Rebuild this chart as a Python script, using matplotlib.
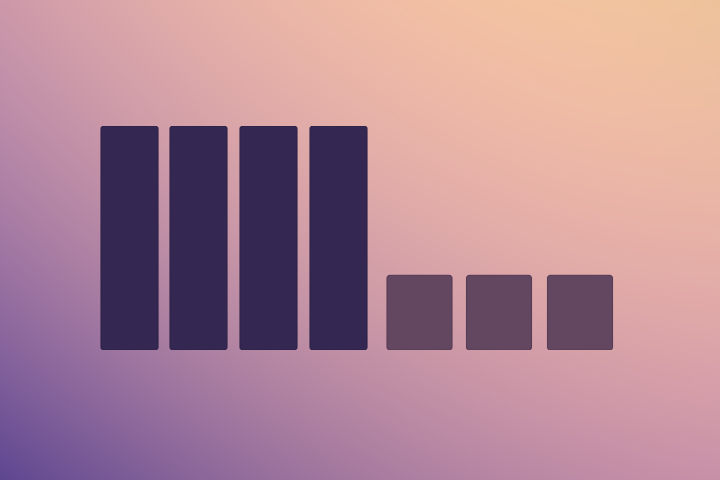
import numpy as np
import matplotlib
matplotlib.use("Agg")
import matplotlib.pyplot as plt
from matplotlib.patches import FancyBboxPatch
from matplotlib.colors import to_rgb

# ---- data ----
categories = ["A", "B", "C", "D", "E", "F", "G"]
values = [3, 3, 3, 3, 1, 1, 1]
groups = ["tall", "tall", "tall", "tall", "short", "short", "short"]

# ---- layout / style ----
W, H = 720, 480
x_centers = [129.5, 198.5, 268.5, 338.5, 419.5, 499.0, 580.0]
widths = [57, 57, 57, 57, 65, 65, 65]
colors = {"tall": "#342852", "short": "#634660"}
edge = {"tall": "#2c2146", "short": "#573c55"}

fig = plt.figure(figsize=(W / 100, H / 100), dpi=100)

# background: smooth quadratic colour surface fitted to sampled colours
samples = [
    (40, 440, "#6E5494"), (680, 40, "#EFC3A2"), (40, 40, "#CD9AAA"),
    (680, 440, "#CB95A8"), (360, 420, "#B888AA"), (360, 60, "#E8B4A0"),
    (670, 240, "#E3ADA2"), (50, 240, "#B083AA"),
    (15, 465, "#684C90"), (705, 15, "#F2C4A0"),
    (10, 10, "#CC98AA"), (710, 470, "#CA93A8"),
]
sx = np.array([s[0] for s in samples]) / W
sy = np.array([s[1] for s in samples]) / H
sc = np.array([to_rgb(s[2]) for s in samples])
A = np.column_stack([np.ones_like(sx), sx, sy, sx * sy, sx ** 2, sy ** 2])
coef, *_ = np.linalg.lstsq(A, sc, rcond=None)
X, Y = np.meshgrid((np.arange(W) + 0.5) / W, (np.arange(H) + 0.5) / H)
B = np.stack([np.ones_like(X), X, Y, X * Y, X ** 2, Y ** 2], axis=-1)
img = np.clip(B @ coef, 0, 1)

bg = fig.add_axes([0, 0, 1, 1])
bg.imshow(img, extent=[0, W, H, 0], aspect="auto", interpolation="bilinear")
bg.set_axis_off()

base_px = 350
top_px = 126
ax = fig.add_axes([0, (H - base_px) / H, 1, (base_px - top_px) / H])
ax.set_xlim(0, W)
ax.set_ylim(0, 3)
ax.patch.set_alpha(0)
ax.set_axis_off()

bars = ax.bar(x_centers, values, width=widths,
              color=[colors[g] for g in groups])
yunit_per_px = 3 / (base_px - top_px)
for b, g in zip(bars, groups):
    b.set_visible(False)
    p = FancyBboxPatch((b.get_x(), b.get_y()), b.get_width(), b.get_height(),
                       boxstyle="round,pad=0,rounding_size=3",
                       mutation_aspect=yunit_per_px,
                       facecolor=colors[g], edgecolor=edge[g], linewidth=0.8)
    ax.add_patch(p)

fig.savefig("out.png", dpi=100)
